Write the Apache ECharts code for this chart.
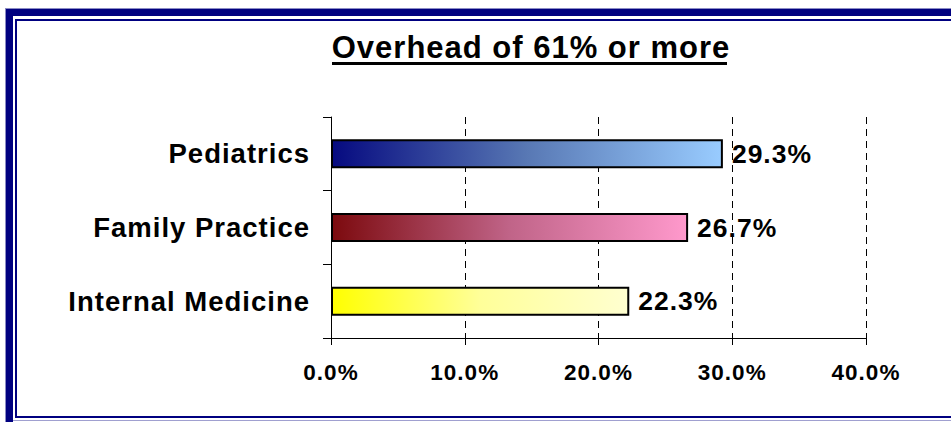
<!DOCTYPE html>
<html>
<head>
<meta charset="utf-8">
<script src="https://cdn.jsdelivr.net/npm/echarts@6/dist/echarts.min.js"></script>
<style>
html,body{margin:0;padding:0;background:#fff;}
#chart{width:951px;height:422px;}
#chart text{letter-spacing:1px;}
</style>
</head>
<body>
<div id="chart"></div>
<script>
// ---- data ----
const titleText = 'Overhead of 61% or more';
const categories = ['Pediatrics', 'Family Practice', 'Internal Medicine'];
const values = [29.3, 26.7, 22.3];
const xTickValues = [0, 10, 20, 30, 40];

// ---- styles ----
const barGradients = [
  ['#060a80', '#5878b4', '#99ccff'],
  ['#7c0a0e', '#c06488', '#ff99cc'],
  ['#ffff00', '#ffff99', '#ffffd0']
];
const FONT = '"Liberation Sans", Arial, Helvetica, sans-serif';
const NAVY = '#000080';

const chart = echarts.init(document.getElementById('chart'), null, {renderer: 'svg'});

const seriesData = values.map((v, i) => ({
  value: v,
  itemStyle: {
    color: {
      type: 'linear', x: 0, y: 0, x2: 1, y2: 0,
      colorStops: [
        {offset: 0, color: barGradients[i][0]},
        {offset: 0.5, color: barGradients[i][1]},
        {offset: 1, color: barGradients[i][2]}
      ]
    }
  }
}));

chart.setOption({
  animation: false,
  backgroundColor: '#ffffff',
  title: {
    text: titleText,
    left: 526,
    top: 27,
    textAlign: 'center',
    textStyle: {fontFamily: FONT, fontWeight: 'bold', fontSize: 31, color: '#000'}
  },
  grid: {left: 331, right: 85, top: 117, bottom: 84, containLabel: false},
  xAxis: {
    type: 'value',
    min: xTickValues[0],
    max: xTickValues[xTickValues.length - 1],
    interval: xTickValues[1] - xTickValues[0],
    axisLine: {show: true, lineStyle: {color: '#000', width: 1}},
    axisTick: {show: true, length: 7, lineStyle: {color: '#000', width: 1}},
    splitLine: {show: true, lineStyle: {color: '#000', width: 1, type: [7, 5]}},
    axisLabel: {
      margin: 23,
      fontFamily: FONT, fontWeight: 'bold', fontSize: 22.5, color: '#000',
      formatter: v => v.toFixed(1) + '%'
    }
  },
  yAxis: {
    type: 'category',
    data: categories,
    inverse: true,
    axisLine: {show: true, lineStyle: {color: '#000', width: 1}},
    axisTick: {show: true, length: 8, lineStyle: {color: '#000', width: 1}},
    splitLine: {show: false},
    axisLabel: {
      margin: 21,
      fontFamily: FONT, fontWeight: 'bold', fontSize: 27.5, color: '#000'
    }
  },
  series: [{
    type: 'bar',
    data: seriesData,
    barWidth: 29,
    itemStyle: {borderColor: '#000', borderWidth: 2},
    label: {
      show: true,
      position: 'right',
      distance: 9,
      fontFamily: FONT, fontWeight: 'bold', fontSize: 26.5, color: '#000',
      formatter: p => p.value.toFixed(1) + '%'
    }
  }],
  graphic: [
    // title underline
    {type: 'rect', shape: {x: 332, y: 62, width: 395, height: 3}, style: {fill: '#000'}, silent: true},
    // outer thick frame (left + top)
    {type: 'rect', shape: {x: 6, y: 9, width: 7, height: 413}, style: {fill: NAVY}, silent: true},
    {type: 'rect', shape: {x: 6, y: 9, width: 945, height: 7}, style: {fill: NAVY}, silent: true},
    {type: 'rect', shape: {x: 5, y: 8, width: 1, height: 414}, style: {fill: '#8c8cc4'}, silent: true},
    {type: 'rect', shape: {x: 5, y: 8, width: 946, height: 1}, style: {fill: '#8c8cc4'}, silent: true},
    // inner thin frame
    {type: 'rect', shape: {x: 15, y: 19, width: 2, height: 399}, style: {fill: NAVY}, silent: true},
    {type: 'rect', shape: {x: 15, y: 19, width: 936, height: 2}, style: {fill: NAVY}, silent: true},
    {type: 'rect', shape: {x: 15, y: 416, width: 936, height: 2}, style: {fill: NAVY}, silent: true},
    {type: 'rect', shape: {x: 13, y: 420, width: 938, height: 1}, style: {fill: '#a0a0d0'}, silent: true}
  ]
});
</script>
</body>
</html>
